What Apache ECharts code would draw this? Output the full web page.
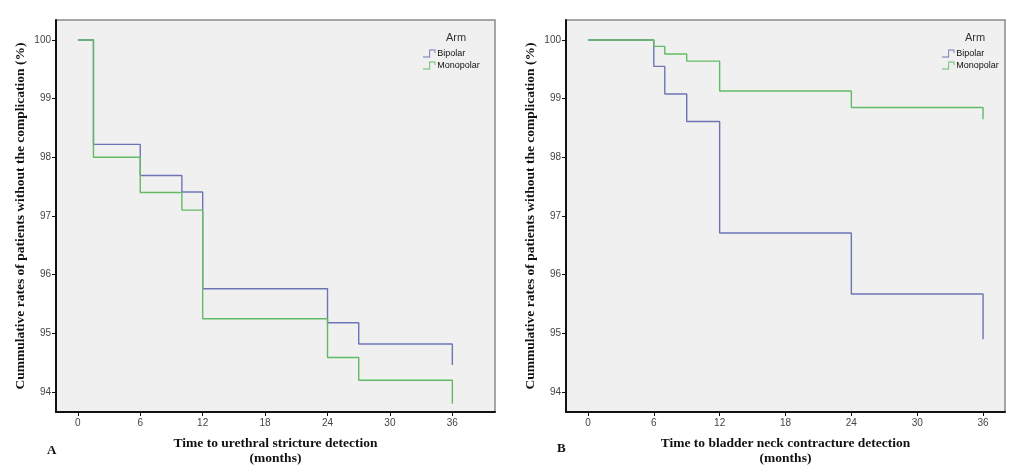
<!DOCTYPE html>
<html>
<head>
<meta charset="utf-8">
<script src="https://cdn.jsdelivr.net/npm/echarts@6/dist/echarts.min.js"></script>
<style>html,body{margin:0;padding:0;background:#fff;}#c{width:1024px;height:471px;}</style>
</head>
<body>
<div id="c"></div>
<script>
// ---- data ----
const timesA_bipolar = [0, 1.5, 6, 10, 12, 24, 27, 36];
const survA_bipolar  = [100, 98.22, 97.69, 97.41, 95.76, 95.18, 94.82, 94.46];
const timesA_mono    = [0, 1.5, 6, 10, 12, 24, 27, 36];
const survA_mono     = [100, 98.0, 97.4, 97.1, 95.25, 94.59, 94.2, 93.8];
const timesB_bipolar = [0, 6, 7, 9, 12, 24, 36];
const survB_bipolar  = [100, 99.55, 99.08, 98.61, 96.71, 95.67, 94.9];
const timesB_mono    = [0, 6, 7, 9, 12, 24, 36];
const survB_mono     = [100, 99.89, 99.76, 99.64, 99.13, 98.85, 98.65];
const xTicks = [0, 6, 12, 18, 24, 30, 36];
const yTicks = [94, 95, 96, 97, 98, 99, 100];
const armNames = ['Bipolar', 'Monopolar'];
const yTitle = 'Cummulative rates of patients without the complication (%)';
const xTitleA = 'Time to urethral stricture detection\n(months)';
const xTitleB = 'Time to bladder neck contracture detection\n(months)';

const pairs = (t, v) => t.map((x, i) => [x, v[i]]);
const colBi = '#6c74b6', colMo = '#62bb64';
const serif = '"Liberation Serif", "DejaVu Serif", serif';
const sans = '"Liberation Sans", Arial, sans-serif';

function xAxis(idx, min, max, name) {
  return {
    type: 'value', gridIndex: idx, min: min, max: max,
    name: name, nameLocation: 'middle', nameGap: 24,
    nameTextStyle: {fontFamily: serif, fontWeight: 'bold', fontSize: 13.5, color: '#111', lineHeight: 15},
    axisLine: {show: true, onZero: false, lineStyle: {color: '#111', width: 2}},
    axisTick: {show: true, length: 4, customValues: xTicks, lineStyle: {color: '#111'}},
    axisLabel: {customValues: xTicks, fontFamily: sans, fontSize: 10, color: '#444', margin: 6},
    splitLine: {show: false}
  };
}
function yAxis(idx) {
  return {
    type: 'value', gridIndex: idx, min: 93.66, max: 100.34,
    name: yTitle, nameLocation: 'middle', nameGap: 28, nameRotate: 90,
    nameTextStyle: {fontFamily: serif, fontWeight: 'bold', fontSize: 13.5, color: '#111'},
    axisLine: {show: true, onZero: false, lineStyle: {color: '#111', width: 2}},
    axisTick: {show: true, length: 4, customValues: yTicks, lineStyle: {color: '#111'}},
    axisLabel: {customValues: yTicks, fontFamily: sans, fontSize: 10, color: '#444', margin: 5},
    splitLine: {show: false}
  };
}
function series(name, xi, data, color) {
  return {
    name: name, type: 'line', step: 'end', xAxisIndex: xi, yAxisIndex: xi,
    data: data, showSymbol: false, symbol: 'none', color: color,
    lineStyle: {color: color, width: 1.4}, animation: false
  };
}
const stepIcon = 'path://M0,8 L7,8 L7,0 L14,0 L14,4 L13,4 L13,1 L8,1 L8,9 L0,9 Z';
function legend(left) {
  return {
    orient: 'vertical', left: left, top: 44, itemWidth: 14, itemHeight: 8, itemGap: 3,
    icon: stepIcon, data: armNames,
    textStyle: {fontFamily: sans, fontSize: 9, color: '#111', padding: [0, 0, 0, -4]}
  };
}

const chart = echarts.init(document.getElementById('c'), null, {renderer: 'canvas'});
chart.setOption({
  backgroundColor: '#ffffff',
  animation: false,
  title: [
    {text: 'Arm', left: 441, top: 27, textStyle: {fontFamily: sans, fontSize: 11, fontWeight: 'normal', color: '#333'}},
    {text: 'Arm', left: 960, top: 27, textStyle: {fontFamily: sans, fontSize: 11, fontWeight: 'normal', color: '#333'}},
    {text: 'A', left: 42, top: 439, textStyle: {fontFamily: serif, fontSize: 13, fontWeight: 'bold', color: '#111'}},
    {text: 'B', left: 552, top: 437, textStyle: {fontFamily: serif, fontSize: 13, fontWeight: 'bold', color: '#111'}}
  ],
  legend: [legend(418), legend(937)],
  grid: [
    {left: 56, right: 529, top: 20, bottom: 58, show: true, backgroundColor: '#f0f0f0', borderColor: '#8a8a8a', borderWidth: 1.5},
    {left: 566, right: 19, top: 20, bottom: 58, show: true, backgroundColor: '#f0f0f0', borderColor: '#8a8a8a', borderWidth: 1.5}
  ],
  xAxis: [xAxis(0, -2.1, 40.1, xTitleA), xAxis(1, -2, 38, xTitleB)],
  yAxis: [yAxis(0), yAxis(1)],
  series: [
    series(armNames[0], 0, pairs(timesA_bipolar, survA_bipolar), colBi),
    series(armNames[1], 0, pairs(timesA_mono, survA_mono), colMo),
    series(armNames[0], 1, pairs(timesB_bipolar, survB_bipolar), colBi),
    series(armNames[1], 1, pairs(timesB_mono, survB_mono), colMo)
  ]
});
</script>
</body>
</html>
